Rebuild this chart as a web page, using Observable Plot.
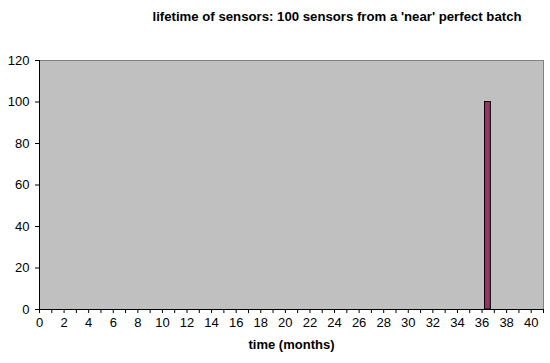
<!DOCTYPE html>
<html>
<head>
<meta charset="utf-8">
<script src="https://cdn.jsdelivr.net/npm/d3@7"></script>
<script src="https://cdn.jsdelivr.net/npm/@observablehq/plot@0.6"></script>
<style>
  html, body { margin: 0; padding: 0; background: #ffffff; }
  #wrap { width: 550px; height: 363px; position: relative; font-family: "Liberation Sans", Arial, sans-serif; }
  #title { position: absolute; left: 0; top: 0; width: 550px; height: 40px; }
  #title span { position: absolute; left: 337px; top: 9px; transform: translateX(-50%); white-space: nowrap; font-weight: bold; font-size: 13.2px; color: #000; }
  #chart { position: absolute; left: 0; top: 40px; }
</style>
</head>
<body>
<div id="wrap">
  <div id="title"><span>lifetime of sensors: 100 sensors from a 'near' perfect batch</span></div>
  <div id="chart"></div>
</div>
<script>
// bins: start month of each one-month bin and the count of sensors failing in it
const binStart = [36];
const sensorCount = [100];
const xTicks = d3.range(0, 42);           // one tick per month
const yTicks = [0, 20, 40, 60, 80, 100, 120];
const xLabel = "time (months)";

const bars = binStart.map((m, i) => ({x1: m, x2: m + 1, y: sensorCount[i]}));

const plot = Plot.plot({
  width: 550,
  height: 323,
  marginTop: 20,
  marginBottom: 54,
  marginLeft: 39,
  marginRight: 7,
  style: {fontFamily: "'Liberation Sans', Arial, sans-serif", fontSize: "13px", color: "#000", background: "transparent"},
  x: {domain: [0, 41]},
  y: {domain: [0, 120]},
  marks: [
    Plot.frame({fill: "#c0c0c0", stroke: "#808080", strokeWidth: 1}),
    Plot.rectY(bars, {x1: "x1", x2: "x2", y: "y", fill: "#993366", stroke: "#000", strokeWidth: 1, insetLeft: 3, insetRight: 3.5}),
    Plot.ruleX([0], {stroke: "#000"}),
    Plot.ruleY([0], {stroke: "#000"}),
    Plot.axisX({ticks: xTicks, tickFormat: d => d % 2 ? "" : String(d), tickSize: 4, tickPadding: 4, label: null, fontSize: 13}),
    Plot.axisY({ticks: yTicks, tickSize: 4, tickPadding: 6, label: null, fontSize: 13}),
    Plot.text([xLabel], {text: d => d, frameAnchor: "bottom", dy: 39, fontWeight: "bold", fontSize: 13})
  ]
});
document.getElementById("chart").appendChild(plot);
</script>
</body>
</html>
